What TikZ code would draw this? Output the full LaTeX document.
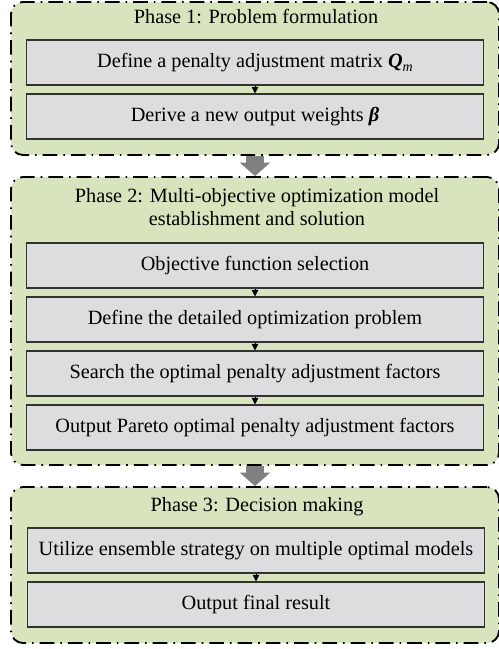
\documentclass[tikz,border=0pt]{standalone}
\usepackage{fontspec}
\setmainfont{Liberation Serif}
\usepackage{tikz}
\usetikzlibrary{arrows.meta}
\definecolor{phasegreen}{RGB}{216,228,189}
\definecolor{boxgray}{RGB}{221,221,224}
\definecolor{arrowgray}{RGB}{128,128,128}

\begin{document}
\begin{tikzpicture}[x=0.75pt,y=0.75pt,yscale=-1,xscale=1,
  phasebox/.style={draw=black,line width=1.4pt,dash pattern=on 11pt off 4.5pt on 1.2pt off 4.5pt,rounded corners=9pt,fill=phasegreen,minimum width=366pt,inner sep=0pt},
  stepbox/.style={draw={rgb, 255:red, 50; green, 50; blue, 50 },line width=0.8pt,fill=boxgray,minimum width=342.75pt,minimum height=33.75pt,inner sep=0pt,font=\fontsize{15.2}{17}\selectfont},
  phasetitle/.style={font=\fontsize{15.2}{17.25}\selectfont,align=center,inner sep=0pt},
  flow/.style={line width=0.6pt,-{Triangle[length=5pt,width=5pt]}},
  phaseflow/.style={draw=arrowgray,line width=13.5pt,-{Triangle[length=10pt,width=22pt]}}]
\useasboundingbox (0,0) rectangle (499,649);

%Shape: Rounded Rectangle
\draw (255,78.5) node (p1) [phasebox,minimum height=114.75pt] {};
%Shape: Rounded Rectangle
\draw (255,321) node (p2) [phasebox,minimum height=216pt] {};
%Shape: Rounded Rectangle
\draw (255,565) node (p3) [phasebox,minimum height=117pt] {};

% Text Node
\draw (256,17) node (t1) [phasetitle] {Phase 1: Problem formulation};
% Text Node
\draw (257,207.5) node (t2) [phasetitle] {Phase 2: Multi-objective optimization model\\establishment and solution};
% Text Node
\draw (257,507) node (t3) [phasetitle] {Phase 3: Decision making};

%Shape: Rectangle
\draw (255,62.5) node (b11) [stepbox] {Define a penalty adjustment matrix \textbf{\textit{Q}}\raisebox{-0.2em}{\fontsize{10.5}{11}\selectfont\textit{m}}};
%Shape: Rectangle
\draw (255,116.5) node (b12) [stepbox] {Derive a new output weights \textbf{\textit{β}}};

%Shape: Rectangle
\draw (255,265.5) node (b21) [stepbox] {Objective function selection};
%Shape: Rectangle
\draw (255,319.5) node (b22) [stepbox] {Define the detailed optimization problem};
%Shape: Rectangle
\draw (255,373.5) node (b23) [stepbox] {Search the optimal penalty adjustment factors};
%Shape: Rectangle
\draw (255,427.5) node (b24) [stepbox] {Output Pareto optimal penalty adjustment factors};

%Shape: Rectangle
\draw (256,550.5) node (b31) [stepbox] {Utilize ensemble strategy on multiple optimal models};
%Shape: Rectangle
\draw (256,604.5) node (b32) [stepbox] {Output final result};

%Straight Lines
\draw [flow] (b11) -- (b12);
\draw [flow] (b21) -- (b22);
\draw [flow] (b22) -- (b23);
\draw [flow] (b23) -- (b24);
\draw [flow] (b31) -- (b32);

%Block Arrows
\draw [phaseflow] (p1.south) -- (p2.north);
\draw [phaseflow] (p2.south) -- (p3.north);

\end{tikzpicture}
\end{document}
